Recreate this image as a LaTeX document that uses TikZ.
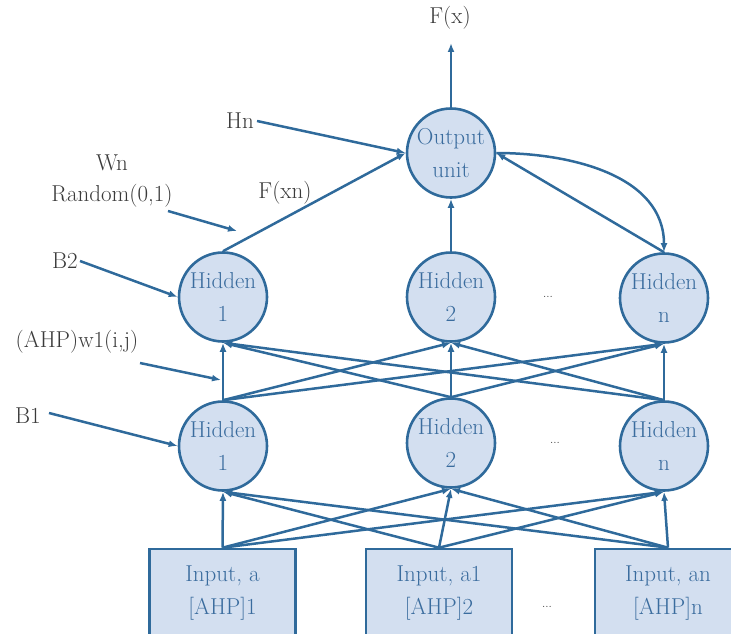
\documentclass[tikz,border=0pt]{standalone}
\usetikzlibrary{arrows.meta,shapes.geometric}
\definecolor{edgeblue}{HTML}{2F6A9B}
\definecolor{fillblue}{HTML}{D3DFF0}
\definecolor{nodetext}{HTML}{3A6C9E}
\definecolor{labelgray}{HTML}{3A3A3A}
% two centred lines that do not widen the node
\newcommand{\twolines}[2]{\makebox[0pt]{#1}\\\makebox[0pt]{#2}}
\begin{document}
\begin{tikzpicture}[x=1pt,y=-1pt,
  unit/.style={ellipse, draw=edgeblue, fill=fillblue, line width=2.6pt,
    minimum width=88pt, minimum height=89pt, inner sep=0pt, align=center,
    text=nodetext, font=\fontsize{23}{33}\selectfont},
  inbox/.style={rectangle, draw=edgeblue, fill=fillblue, line width=2.6pt,
    minimum width=146pt, minimum height=88pt, inner sep=0pt, align=center,
    text=nodetext, font=\fontsize{23}{33}\selectfont},
  lbl/.style={text=labelgray, inner sep=0pt, font=\fontsize{23}{26}\selectfont},
  dotsep/.style={text=labelgray, inner sep=0pt, font=\fontsize{12}{12}\selectfont},
  link/.style={draw=edgeblue, line width=2.5pt, -{Latex[length=9pt,width=7pt]}}
]
\useasboundingbox (0,0) rectangle (731,634);

% output unit
\node[unit] (out) at (451,153) {\twolines{Output}{unit}};

% second hidden layer
\node[unit] (h21) at (223,297) {\twolines{Hidden}{1}};
\node[unit] (h22) at (451,297) {\twolines{Hidden}{2}};
\node[unit] (h2n) at (664,298) {\twolines{Hidden}{n}};

% first hidden layer
\node[unit] (h11) at (223,446) {\twolines{Hidden}{1}};
\node[unit] (h12) at (451,443) {\twolines{Hidden}{2}};
\node[unit] (h1n) at (664,446) {\twolines{Hidden}{n}};

% input boxes
\node[inbox] (in1) at (222.5,593) {Input, a\\{}[AHP]1};
\node[inbox] (in2) at (439,593) {Input, a1\\{}[AHP]2};
\node[inbox] (in3) at (668,593) {Input, an\\{}[AHP]n};

% ellipsis marks
\node[dotsep] (d2) at (548,297) {...};
\node[dotsep] (d1) at (555,443) {...};
\node[dotsep] (d0) at (547,607) {...};

% labels
\node[lbl] (fx) at (450,18) {F(x)};
\node[lbl] (hn) at (240,121) {Hn};
\node[lbl] (wn) at (112,163) {Wn};
\node[lbl] (rnd) at (112,196) {Random(0,1)};
\node[lbl] (fxn) at (285,193) {F(xn)};
\node[lbl] (b2) at (65,261) {B2};
\node[lbl] (ahp) at (77,342) {(AHP)w1(i,j)};
\node[lbl] (b1) at (28,416) {B1};

\coordinate (fxtip) at (451,43);
\coordinate (rndfrom) at (168,211);
\coordinate (rndto) at (237,231);
\coordinate (ahpfrom) at (140,363);
\coordinate (ahpto) at (221,380);

% output arrow and label pointers
\draw[link] (out.north) -- (fxtip);
\draw[link] ([xshift=3pt]hn.east) -- (out.west);
\draw[link] (rndfrom) -- (rndto);
\draw[link] ([xshift=2pt]b2.east) -- (h21.west);
\draw[link] (ahpfrom) -- (ahpto);
\draw[link] ([xshift=8pt,yshift=3pt]b1.east) -- (h11.west);

% second hidden layer to output
\draw[link] (h21.north) -- (out.west);
\draw[link] (h22.north) -- (out.south);
\draw[link] (h2n.north) -- (out.east);
\draw[link] (out.east) to[out=0,in=90] (h2n.north);

% first hidden layer to second hidden layer
\foreach \a in {h11,h12,h1n}{
  \foreach \b in {h21,h22,h2n}{
    \draw[link] (\a.north) -- (\b.south);
  }
}

% inputs to first hidden layer
\foreach \a in {in1,in2,in3}{
  \foreach \b in {h11,h12,h1n}{
    \draw[link] (\a.north) -- (\b.south);
  }
}
\end{tikzpicture}
\end{document}
